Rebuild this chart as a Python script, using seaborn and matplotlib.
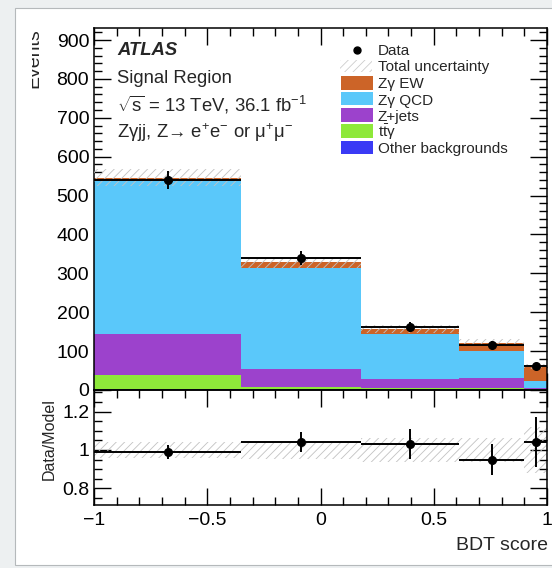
import numpy as np
import pandas as pd
import matplotlib
matplotlib.use("Agg")
import matplotlib.pyplot as plt
import seaborn as sns
from matplotlib.patches import Rectangle
from matplotlib.lines import Line2D
from matplotlib.ticker import MultipleLocator, FuncFormatter
from matplotlib.transforms import Bbox, TransformedBbox

# BDT score binning
bin_edges = [-1.0, -0.35, 0.18, 0.61, 0.90, 1.0]

# stacked predictions, top to bottom
processes = ["Zgamma EW", "Zgamma QCD", "Z+jets", "ttgamma", "Other backgrounds"]
zg_ew = [8, 13, 12, 21, 36]
zg_qcd = [393, 261, 116, 70, 18]
zjets = [107, 46, 23, 25, 4]
ttgamma = [35, 6, 4, 4, 1]
other_bkg = [3, 2, 2, 2, 1]
total_unc = [22, 15, 10, 8, 7]

# data
data_counts = [541, 340, 161, 116, 62]
data_err = [23, 18, 13, 11, 8]

# ratio panel
ratio = [0.99, 1.04, 1.03, 0.95, 1.04]
ratio_err = [0.038, 0.052, 0.078, 0.081, 0.13]
ratio_unc = [0.04, 0.047, 0.062, 0.065, 0.12]

colors = {
    "Other backgrounds": "#3a3af5",
    "ttgamma": "#8ee83a",
    "Z+jets": "#9c42cc",
    "Zgamma QCD": "#5ac8fa",
    "Zgamma EW": "#cc6428",
}
legend_labels = {
    "Zgamma EW": "Zγ EW",
    "Zgamma QCD": "Zγ QCD",
    "Z+jets": "Z+jets",
    "ttgamma": r"$\mathrm{t\bar{t}}$γ",
    "Other backgrounds": "Other backgrounds",
}

sns.set_style("ticks")
plt.rcParams["font.family"] = ["Liberation Sans", "DejaVu Sans"]
plt.rcParams["mathtext.fontset"] = "custom"
plt.rcParams["mathtext.rm"] = "Liberation Sans"
plt.rcParams["mathtext.it"] = "Liberation Sans:italic"
plt.rcParams["mathtext.bf"] = "Liberation Sans:bold"
plt.rcParams["hatch.linewidth"] = 0.6

W, H = 552, 568


def px(x, y):
    return x / W, 1 - y / H


edges = np.array(bin_edges)
centers = (edges[:-1] + edges[1:]) / 2
half_w = np.diff(edges) / 2

# long table for seaborn
rows = []
for name, vals in zip(processes, [zg_ew, zg_qcd, zjets, ttgamma, other_bkg]):
    for c, v in zip(centers, vals):
        rows.append({"bdt": c, "events": v, "process": name})
df = pd.DataFrame(rows)
total = np.sum([other_bkg, ttgamma, zjets, zg_qcd, zg_ew], axis=0)

fig = plt.figure(figsize=(W / 100, H / 100), dpi=100, facecolor="#edf0f1")
# screenshot panel
fig.add_artist(Rectangle(px(15, 565), (W - 10) / W, 557 / H, transform=fig.transFigure,
                         facecolor="white", edgecolor="#b5b9bb", lw=0.8, zorder=-5))

l, r = 94, 547
ax = fig.add_axes([l / W, 1 - 390 / H, (r - l) / W, 362 / H])
axr = fig.add_axes([l / W, 1 - 505 / H, (r - l) / W, 115 / H])
for a in (ax, axr):
    a.set_facecolor("none")

# seaborn stacks the last hue level at the bottom
sns.histplot(data=df, x="bdt", weights="events", hue="process", hue_order=processes,
             bins=bin_edges, multiple="stack", element="step", palette=colors,
             alpha=1, linewidth=0, legend=False, ax=ax)

ax.stairs(total + np.array(total_unc), bin_edges, baseline=total - np.array(total_unc),
          fill=True, facecolor="none", edgecolor="#c2c2c2", hatch="////", linewidth=0, zorder=3)
ax.errorbar(centers, data_counts, yerr=data_err, xerr=half_w, fmt="o", color="black",
            ms=5.5, elinewidth=1.4, capsize=0, zorder=5)

ax.set_xlim(-1, 1)
ax.set_ylim(0, 931)
ax.set_xlabel("")
ax.set_ylabel("")
ax.yaxis.set_major_locator(MultipleLocator(100))
ax.yaxis.set_minor_locator(MultipleLocator(20))

# ratio
axr.stairs(1 + np.array(ratio_unc), bin_edges, baseline=1 - np.array(ratio_unc),
           fill=True, facecolor="none", edgecolor="#c2c2c2", hatch="////", linewidth=0)
axr.errorbar(centers, ratio, yerr=ratio_err, xerr=half_w, fmt="o", color="black",
             ms=5.5, elinewidth=1.4, capsize=0, zorder=5)
axr.set_xlim(-1, 1)
axr.set_ylim(0.713, 1.313)
axr.yaxis.set_major_locator(MultipleLocator(0.2))
axr.yaxis.set_minor_locator(MultipleLocator(0.05))

fmt = FuncFormatter(lambda v, p: f"{v:g}".replace("-", "\u2212"))
axr.xaxis.set_major_formatter(fmt)
axr.yaxis.set_major_formatter(fmt)

for a in (ax, axr):
    a.xaxis.set_major_locator(MultipleLocator(0.5))
    a.xaxis.set_minor_locator(MultipleLocator(0.1))
    a.tick_params(which="both", direction="in", top=True, right=True, width=1,
                  labelsize=14, pad=3.5, colors="black")
    a.tick_params(which="major", length=12)
    a.tick_params(which="minor", length=6)
    for s in a.spines.values():
        s.set_linewidth(1.1)
        s.set_color("black")
ax.tick_params(labelbottom=False)
axr.tick_params(axis="x", pad=5)

# axis titles
fig.text(*px(548, 545), "BDT score", ha="right", va="center", fontsize=14)
fig.text(*px(49, 439), "Data/Model", rotation=90, ha="center", va="center", fontsize=11.5)
ev = fig.text(*px(34, 28), "Events", rotation=90, ha="center", va="top", fontsize=14)
ev.set_clip_on(True)
ev.set_clip_box(TransformedBbox(Bbox.from_extents(32 / W, 0, 1, 1), fig.transFigure))

# labels
fig.text(*px(117, 55), "ATLAS", fontsize=13.3, fontweight="bold", fontstyle="italic", va="baseline")
fig.text(*px(117, 83), "Signal Region", fontsize=13.3, va="baseline")
fig.text(*px(117, 111), r"$\sqrt{\mathrm{s}}$ = 13 TeV, 36.1 fb$^{-1}$", fontsize=13.3, va="baseline")
fig.text(*px(117, 138), r"Zγjj, Z→ e$^{+}$e$^{-}$ or μ$^{+}$μ$^{-}$", fontsize=13.3, va="baseline")

# legend
fig.add_artist(Line2D([357 / W], [1 - 50 / H], marker="o", ms=5, color="black",
                      transform=fig.transFigure))
fig.text(*px(378, 55), "Data", fontsize=11, va="baseline")
fig.add_artist(Rectangle(px(340, 72), 32 / W, 12 / H, transform=fig.transFigure,
                         facecolor="none", edgecolor="#cccccc", hatch="////", lw=0))
fig.text(*px(378, 71.5), "Total uncertainty", fontsize=11, va="baseline")
for i, name in enumerate(processes):
    yc = 83 + i * 16
    fig.add_artist(Rectangle(px(341, yc + 6.5), 32 / W, 13 / H, transform=fig.transFigure,
                             facecolor=colors[name], edgecolor="none"))
    fig.text(*px(378, yc + 5.5), legend_labels[name], fontsize=11, va="baseline")

fig.savefig("out.png", dpi=100, facecolor=fig.get_facecolor())
